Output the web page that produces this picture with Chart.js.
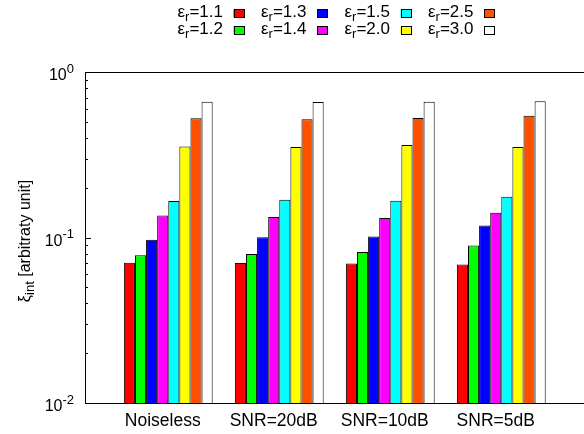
<!DOCTYPE html>
<html>
<head>
<meta charset="utf-8">
<script src="https://cdn.jsdelivr.net/npm/chart.js@4/dist/chart.umd.min.js"></script>
<style>
  html, body { margin: 0; padding: 0; background: #fff; overflow: hidden; }
  canvas { display: block; }
</style>
</head>
<body>
<canvas id="xiChart" width="584" height="434"></canvas>
<script>
// conditions on the x axis
const categories = ['Noiseless', 'SNR=20dB', 'SNR=10dB', 'SNR=5dB'];

// relative permittivity of each series
const epsR = ['1.1', '1.2', '1.3', '1.4', '1.5', '2.0', '2.5', '3.0'];
const seriesColors = ['#ff0000', '#00ff00', '#0000ff', '#ff00ff', '#00ffff', '#ffff00', '#ff5000', '#ffffff'];

// xi_int per condition, one array per eps_r
const er11 = [0.0704, 0.0702, 0.0696, 0.0686];
const er12 = [0.0780, 0.0795, 0.0818, 0.0895];
const er13 = [0.0970, 0.1005, 0.1015, 0.1180];
const er14 = [0.1360, 0.1330, 0.1310, 0.1410];
const er15 = [0.1660, 0.1690, 0.1670, 0.1760];
const er20 = [0.3550, 0.3520, 0.3620, 0.3520];
const er25 = [0.5260, 0.5190, 0.5280, 0.5450];
const er30 = [0.6620, 0.6590, 0.6620, 0.6660];
const seriesValues = [er11, er12, er13, er14, er15, er20, er25, er30];

// y axis decades that get a label
const yDecades = [-2, -1, 0];

const FONT = "'Liberation Sans', Arial, Helvetica, sans-serif";

const datasets = seriesValues.map((vals, s) => ({
    label: 'eps_r=' + epsR[s],
    data: vals.map((v, i) => ({ x: i, y: v })),
    backgroundColor: seriesColors[s],
    borderColor: '#000',
    borderWidth: 1,
    borderSkipped: 'start'
}));

// draws a base string followed by a raised/lowered smaller piece
function drawScripted(ctx, parts, x, y) {
    let cx = x;
    parts.forEach(p => {
        ctx.font = p.size + 'px ' + FONT;
        ctx.fillText(p.text, cx, y + (p.dy || 0));
        cx += ctx.measureText(p.text).width;
    });
    return cx - x;
}
function scriptedWidth(ctx, parts) {
    let w = 0;
    parts.forEach(p => { ctx.font = p.size + 'px ' + FONT; w += ctx.measureText(p.text).width; });
    return w;
}

const decorations = {
    id: 'decorations',
    afterDraw(chart) {
        const { ctx, chartArea: a, scales: { x, y } } = chart;
        ctx.save();
        ctx.fillStyle = '#000';
        ctx.strokeStyle = '#000';
        ctx.lineWidth = 1;
        ctx.textAlign = 'left';
        ctx.textBaseline = 'alphabetic';

        // top border
        ctx.beginPath();
        ctx.moveTo(a.left, a.top + 0.5);
        ctx.lineTo(a.right, a.top + 0.5);
        ctx.stroke();

        // inward y ticks, 1..9 per decade
        yDecades.forEach(e => {
            const steps = e === 0 ? [1] : [1, 2, 3, 4, 5, 6, 7, 8, 9];
            steps.forEach(m => {
                const py = Math.round(y.getPixelForValue(m * Math.pow(10, e))) + 0.5;
                const len = m === 1 ? 6 : 3;
                ctx.beginPath();
                ctx.moveTo(a.left, py);
                ctx.lineTo(a.left + len, py);
                ctx.stroke();
            });
        });

        // y tick labels 10^e
        yDecades.forEach(e => {
            const py = y.getPixelForValue(Math.pow(10, e));
            const parts = [{ text: '10', size: 16 }, { text: String(e), size: 13, dy: -7.5 }];
            const w = scriptedWidth(ctx, parts);
            drawScripted(ctx, parts, a.left - 11 - w, py + 8);
        });

        // category labels
        ctx.font = '17.5px ' + FONT;
        ctx.textAlign = 'center';
        categories.forEach((c, i) => {
            ctx.fillText(c, x.getPixelForValue(i - 0.05), a.bottom + 23);
        });
        ctx.textAlign = 'left';

        // y axis title, rotated
        ctx.save();
        ctx.translate(30, 241);
        ctx.rotate(-Math.PI / 2);
        const tParts = [{ text: 'ξ', size: 16 }, { text: 'int', size: 13, dy: 4 }, { text: ' [arbitraty unit]', size: 16 }];
        drawScripted(ctx, tParts, -scriptedWidth(ctx, tParts) / 2, 0);
        ctx.restore();

        // legend, two rows, filled column by column
        epsR.forEach((r, s) => {
            const col = Math.floor(s / 2), row = s % 2;
            const sx = 233.5 + col * 83.5;
            const base = 17.3 + row * 16.7;
            const parts = [{ text: 'ε', size: 17 }, { text: 'r', size: 13, dy: 4 }, { text: '=' + r, size: 17 }];
            const w = scriptedWidth(ctx, parts);
            ctx.fillStyle = '#000';
            drawScripted(ctx, parts, sx - 10.5 - w, base);
            ctx.fillStyle = seriesColors[s];
            ctx.fillRect(sx, base - 8, 10.5, 8);
            ctx.strokeStyle = '#000';
            ctx.strokeRect(Math.round(sx) + 0.5, Math.round(base - 8) + 0.5, 10, 8);
        });

        ctx.restore();
    }
};

new Chart(document.getElementById('xiChart'), {
    type: 'bar',
    data: { datasets },
    options: {
        responsive: false,
        animation: false,
        devicePixelRatio: 1,
        layout: { padding: { left: 85, top: 72, right: 0, bottom: 31 } },
        datasets: { bar: { categoryPercentage: 0.8, barPercentage: 1.0 } },
        plugins: { legend: { display: false }, tooltip: { enabled: false } },
        scales: {
            x: {
                type: 'linear',
                min: -0.75,
                max: 3.745,
                offset: false,
                // one tick per category so bar widths follow the category spacing
                afterBuildTicks: scale => { scale.ticks = categories.map((c, i) => ({ value: i })); },
                ticks: { display: false },
                grid: { display: false, drawTicks: false, offset: false },
                border: { display: true, color: '#000', width: 1 }
            },
            y: {
                type: 'logarithmic',
                min: 0.01,
                max: 1,
                ticks: { display: false },
                grid: { display: false, drawTicks: false },
                border: { display: true, color: '#000', width: 1 }
            }
        }
    },
    plugins: [decorations]
});
</script>
</body>
</html>
